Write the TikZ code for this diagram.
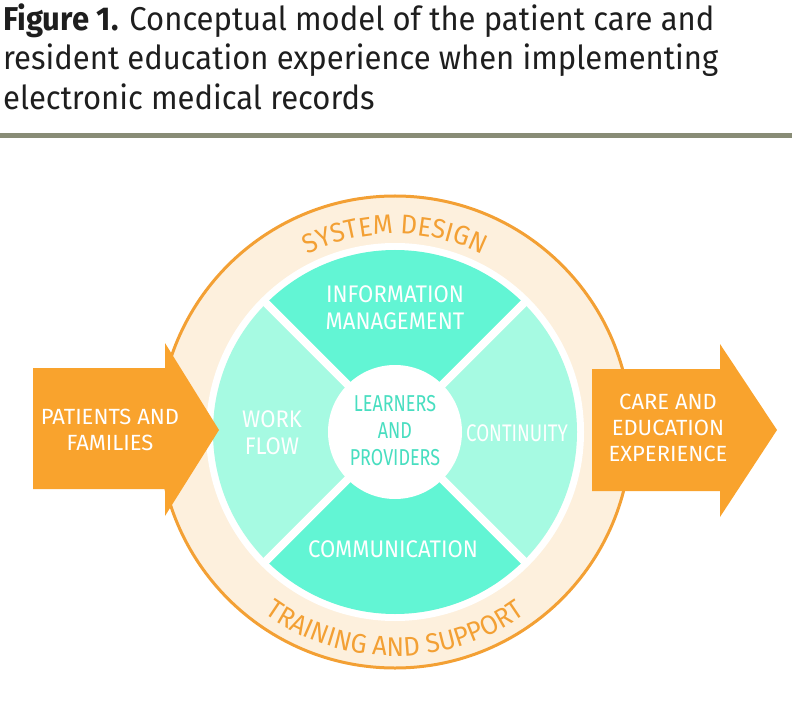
\documentclass[tikz,border=0pt]{standalone}
\usepackage{fontspec}
\setmainfont{Fira Sans}
\newfontfamily\titlefont[FakeStretch=0.94]{Fira Sans}
\newfontfamily\condfont[FakeStretch=0.92]{Fira Sans}
\newfontfamily\narrowfont[FakeStretch=0.78]{Fira Sans}
\newfontfamily\ringfont[FakeStretch=0.95]{Fira Sans}
\usetikzlibrary{decorations.text}

\definecolor{ringorange}{RGB}{243,160,52}
\definecolor{arroworange}{RGB}{249,163,45}
\definecolor{cream}{RGB}{253,240,221}
\definecolor{darkteal}{RGB}{98,245,212}
\definecolor{lightteal}{RGB}{166,250,226}
\definecolor{midteal}{RGB}{72,222,192}
\definecolor{rulegray}{RGB}{136,140,118}
\definecolor{titleblack}{RGB}{30,30,30}

\begin{document}
\begin{tikzpicture}[
	x=1pt, y=1pt,
	titletext/.style = {anchor=base west, inner sep=0pt, text=titleblack, font=\titlefont\fontsize{33}{40}\selectfont},
	segtext/.style = {align=center, inner sep=0pt, text=white, font=\condfont\fontsize{24}{27}\selectfont},
	narrowtext/.style = {segtext, font=\narrowfont\fontsize{24}{27}\selectfont},
	hubtext/.style = {segtext, text=midteal, font=\narrowfont\fontsize{23}{27}\selectfont},
	arrowtext/.style = {align=center, inner sep=0pt, text=white, font=\fontsize{22}{26}\selectfont},
	arrowbody/.style = {fill=arroworange},
]
\useasboundingbox (0,0) rectangle (808,724);

% title and rule
\node[titletext] (title1) at (3,693) {\textbf{Figure 1.} Conceptual model of the patient care and};
\node[titletext] (title2) at (3,654) {resident education experience when implementing};
\node[titletext] (title3) at (3,614) {electronic medical records};
\fill[rulegray] (0,586) rectangle (792,591);

% outer ring
\coordinate (c) at (395,292);
\filldraw[draw=ringorange, line width=3pt, fill=cream] (c) circle[radius=236];
\fill[white] (c) circle[radius=189];

% the four segments
\fill[darkteal] (c) -- ++(45:182) arc[start angle=45, end angle=135, radius=182] -- cycle;
\fill[lightteal] (c) -- ++(135:182) arc[start angle=135, end angle=225, radius=182] -- cycle;
\fill[darkteal] (c) -- ++(225:182) arc[start angle=225, end angle=315, radius=182] -- cycle;
\fill[lightteal] (c) -- ++(-45:182) arc[start angle=-45, end angle=45, radius=182] -- cycle;
\draw[white, line width=8pt] (c) ++(45:184) -- ++(225:368);
\draw[white, line width=8pt] (c) ++(135:184) -- ++(-45:368);
\fill[white] (c) circle[radius=67];

% ring labels
\path[decorate, decoration={text along path, text align=center,
	text={|\ringfont\fontsize{27}{27}\selectfont\color{ringorange}|SYSTEM DESIGN}}]
	(c) ++(150:198) arc[start angle=150, end angle=30, radius=198];
\path[decorate, decoration={text along path, text align=center,
	text={|\ringfont\fontsize{27}{27}\selectfont\color{ringorange}|TRAINING AND SUPPORT}}]
	(c) ++(205:224) arc[start angle=205, end angle=335, radius=224];

% in and out arrows
\fill[arrowbody] (33,356) -- (165,356) -- (165,381) -- (219,294) -- (165,208) -- (165,235) -- (33,235) -- cycle;
\fill[arrowbody] (592,355) -- (720,355) -- (720,380) -- (777,294) -- (720,207) -- (720,233) -- (592,233) -- cycle;

\node[arrowtext] (patients) at (110,294) {PATIENTS AND\\FAMILIES};
\node[arrowtext] (outcome) at (668,296) {CARE AND\\EDUCATION\\EXPERIENCE};

% segment labels
\node[segtext] (info) at (395,416) {INFORMATION\\MANAGEMENT};
\node[segtext] (workflow) at (272,291) {WORK\\FLOW};
\node[narrowtext] (continuity) at (517,291) {CONTINUITY};
\node[segtext] (comm) at (393,175) {COMMUNICATION};
\node[hubtext] (learners) at (395,293) {LEARNERS\\AND\\PROVIDERS};
\end{tikzpicture}
\end{document}
